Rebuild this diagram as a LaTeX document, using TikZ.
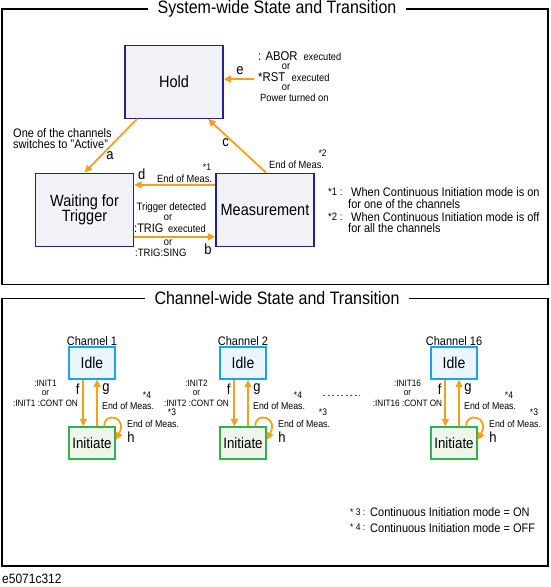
\documentclass[tikz,border=0pt]{standalone}
\usepackage{fontspec}
\setmainfont{Liberation Sans}[FakeStretch=0.89]
\usetikzlibrary{arrows.meta,calc}
\definecolor{orng}{HTML}{F5A01A}
\definecolor{navy}{HTML}{23238C}
\definecolor{lav}{HTML}{F1F1F8}
\definecolor{idleb}{HTML}{1AA3E8}
\definecolor{idlef}{HTML}{EAF5FC}
\definecolor{initb}{HTML}{36B04E}
\definecolor{initf}{HTML}{EEF5EA}
\newcommand\myfs[1]{\fontsize{\fpeval{1.124*#1}}{\fpeval{1.124*#1}}\selectfont}
\tikzset{
  frame/.style={draw=black, line width=1.1pt},
  ttl/.style={fill=white, inner xsep=10pt, inner ysep=2pt, font=\myfs{16}},
  state/.style={draw=navy, fill=lav, line width=1.3pt, minimum width=98pt, minimum height=73pt, inner sep=0pt, align=center, font=\myfs{14.5}},
  idlebox/.style={draw=idleb, fill=idlef, line width=1.3pt, minimum width=46pt, minimum height=32pt, inner sep=0pt, font=\myfs{14}},
  initbox/.style={draw=initb, fill=initf, line width=1.3pt, minimum width=46pt, minimum height=32pt, inner sep=0pt, font=\myfs{13.3}},
  arr/.style={draw=orng, line width=1.8pt, -{Triangle[length=7.5pt,width=7pt]}},
  lbl/.style={inner sep=0pt, font=\myfs{9.3}},
  sml/.style={inner sep=0pt, font=\myfs{8.5}},
  cmd/.style={inner sep=0pt, font=\myfs{8.2}},
  letter/.style={inner sep=0pt, font=\myfs{13}},
  foot/.style={inner sep=0pt, font=\myfs{11}}
}
\begin{document}
\begin{tikzpicture}[x=1pt,y=-1pt]
\useasboundingbox (0,0) rectangle (550,587);
% ---------- System-wide frame ----------
\draw[frame] (2,9) rectangle (548,284.5);
\node[ttl] (t1) at (277,9) {System-wide State and Transition};

\node[state] (hold) at (174,81.8) {Hold};
\node[state] (wait) at (84.5,209.7) {Waiting for\\[-1.5pt]Trigger};
\node[state] (meas) at (265,209.7) {Measurement};

% arrow a
\draw[arr] ($(hold.south west)+(12.8,0)$) -- ($(wait.north west)+(49.6,0)$);
\node[letter] (la) at (110,156) {a};
\node[foot, anchor=west] (ta1) at (13,133) {One of the channels};
\node[foot, anchor=west] (ta2) at (13,144) {switches to "Active"};
% arrow c
\draw[arr] ($(meas.north west)+(50.6,0)$) -- ($(hold.south west)+(83.7,0)$);
\node[letter] (lc) at (225.5,143) {c};
\node[lbl, anchor=west] (tc) at (269,164.5) {End of Meas.};
\node[sml] (sc) at (322.7,153.2) {*2};
% arrow d
\draw[arr] ($(meas.north west)+(0,12.3)$) -- ($(wait.north east)+(0,12.3)$);
\node[letter] (ld) at (141.7,174) {d};
\node[lbl, anchor=west] (td) at (157,178.6) {End of Meas.};
\node[sml] (sd) at (207,167.2) {*1};
% arrow b
\draw[arr] ($(wait.south east)+(0,-10)$) -- ($(meas.south west)+(0,-10)$);
\node[letter] (lb) at (208,249.4) {b};
\node[inner sep=0pt, font=\myfs{9.6}, anchor=west] (tb1) at (136.4,207.6) {Trigger detected};
\node[lbl] (tb2) at (168,218) {or};
\node[inner sep=0pt, anchor=west] (tb3) at (134,228.4) {{\myfs{11}:TRIG}\hspace{4.5pt}{\myfs{9.3}executed}};
\node[lbl] (tb4) at (168,242.3) {or};
\node[inner sep=0pt, font=\myfs{9.5}, anchor=west] (tb5) at (135,252.6) {:TRIG:SING};
% arrow e
\coordinate (estart) at (254,79);
\draw[arr] (estart) -- ($(hold.east)+(0,-2.8)$);
\node[letter] (le) at (240,71) {e};
\node[inner sep=0pt, anchor=west] (te1) at (258,56) {{\myfs{11.3}: ABOR}\hspace{6pt}{\myfs{9.3}executed}};
\node[lbl] (te2) at (286,67) {or};
\node[inner sep=0pt, anchor=west] (te3) at (258,77) {{\myfs{11.3}*RST}\hspace{6.5pt}{\myfs{9.3}executed}};
\node[lbl] (te4) at (286,88) {or};
\node[lbl, anchor=west] (te5) at (260,97.5) {Power turned on};
% footnotes
\node[inner sep=0pt, font=\myfs{9.5}, anchor=west] (f1a) at (328,192.3) {*1 :};
\node[foot, anchor=west] (f1b) at (351,192.3) {When Continuous Initiation mode is on};
\node[foot, anchor=west] (f1c) at (348,203.8) {for one of the channels};
\node[inner sep=0pt, font=\myfs{9.5}, anchor=west] (f2a) at (328,216.8) {*2 :};
\node[foot, anchor=west] (f2b) at (351,216.8) {When Continuous Initiation mode is off};
\node[foot, anchor=west] (f2c) at (348,228.3) {for all the channels};

% ---------- Channel-wide frame ----------
\draw[frame] (2,298.3) rectangle (548,566);
\node[ttl] (t2) at (277,298.3) {Channel-wide State and Transition};

\foreach \ox/\n in {0/1,151/2,362/16}{
  \node[idlebox] (idle\n) at (92+\ox,363) {Idle};
  \node[initbox] (init\n) at (92+\ox,443) {Initiate};
  \node[foot] (ch\n) at (92+\ox,340.7) {Channel \n};
  \draw[arr] ($(idle\n.south west)+(15,0)$) -- ($(init\n.north west)+(15,0)$);
  \draw[arr] ($(init\n.north west)+(28.7,0)$) -- ($(idle\n.south west)+(28.7,0)$);
  \draw[arr] ($(init\n.north west)+(36,0)$) .. controls ($(init\n.north west)+(35,-15)$) and ($(init\n.north west)+(60,-10)$) .. ($(init\n.east)+(0,-3)$);
  \node[letter] (lf\n) at (77.7+\ox,389) {f};
  \node[letter] (lg\n) at (106+\ox,389) {g};
  \node[letter] (lh\n) at (131+\ox,437.3) {h};
  \node[cmd] (i1\n) at (45.5+\ox,383) {:INIT\n};
  \node[cmd] (i2\n) at (45.5+\ox,393.2) {or};
  \node[cmd] (i3\n) at (45.5+\ox,403.5) {:INIT\n\ :CONT ON};
  \node[inner sep=0pt, font=\myfs{8.8}, anchor=west] (eg\n) at (102+\ox,406) {End of Meas.};
  \node[sml] (sg\n) at (147+\ox,395) {*4};
  \node[inner sep=0pt, font=\myfs{8.8}, anchor=west] (eh\n) at (127+\ox,423.5) {End of Meas.};
  \node[sml] (sh\n) at (172+\ox,412.7) {*3};
}
\draw[black!70, line width=0.6pt, dash pattern=on 2pt off 2.5pt] (323,395) -- (359.5,395);

\node[inner sep=0pt, font=\myfs{8.5}, anchor=west] (f3a) at (350,512) {* 3 :};
\node[foot, anchor=west] (f3b) at (370,512) {Continuous Initiation mode = ON};
\node[inner sep=0pt, font=\myfs{8.5}, anchor=west] (f4a) at (350,527.7) {* 4 :};
\node[foot, anchor=west] (f4b) at (370,527.7) {Continuous Initiation mode = OFF};

\node[inner sep=0pt, font=\myfs{12}, anchor=west] (code) at (2,578.5) {e5071c312};
\end{tikzpicture}
\end{document}
